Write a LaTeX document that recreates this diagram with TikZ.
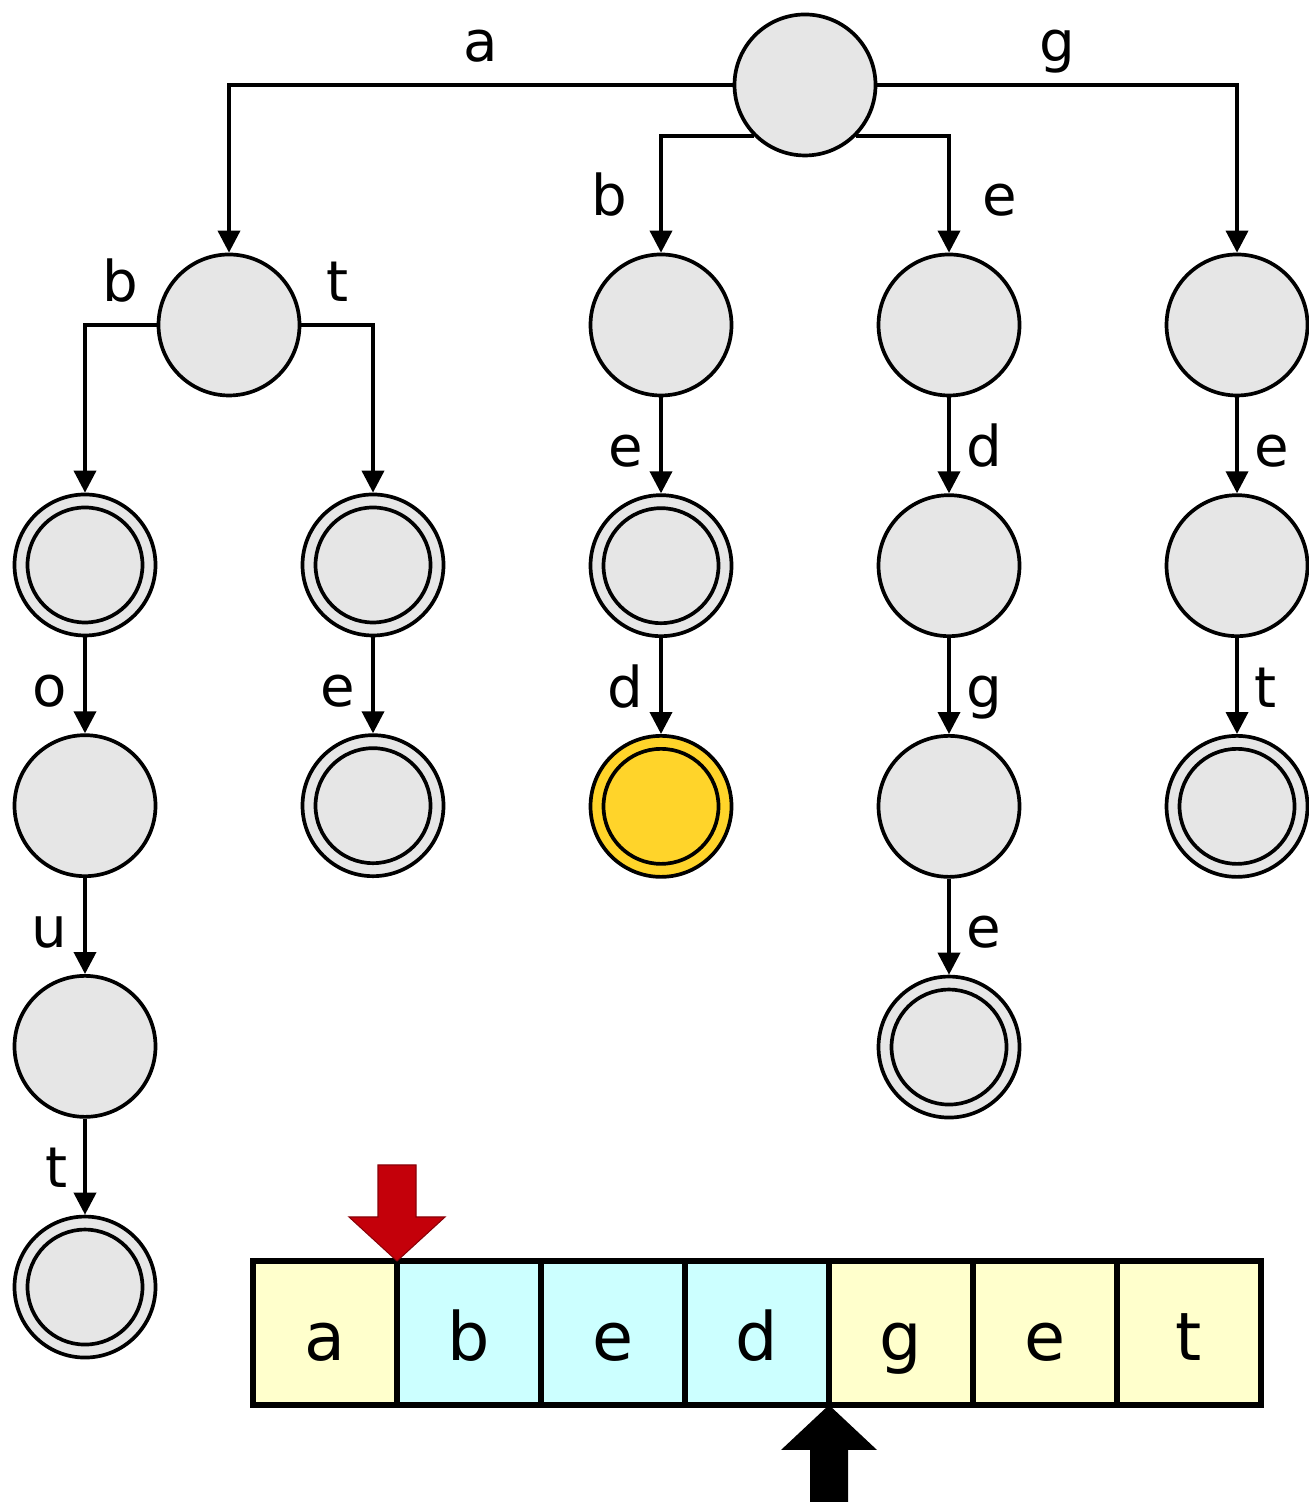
\documentclass[tikz,border=0pt]{standalone}
\usepackage{fontspec}
\setmainfont{DejaVu Sans}
\usepackage{xcolor}
\usetikzlibrary{positioning, arrows.meta, calc}

\definecolor{nodegray}{HTML}{E6E6E6}
\definecolor{hityellow}{HTML}{FFD42A}
\definecolor{cellyellow}{HTML}{FFFFCC}
\definecolor{cellcyan}{HTML}{CCFFFF}
\definecolor{markred}{HTML}{C4000A}

\begin{document}
\begin{tikzpicture}[
    node distance=0.96cm,
    state/.style={
        draw,
        circle,
        fill=nodegray,
        line width=1.05pt,
        minimum size=1.41cm,
        inner sep=0pt
    },
    accept/.style={
        path picture={\draw[line width=1.05pt] (path picture bounding box.center) circle (0.575cm);}
    },
    link/.style={-{Triangle[length=0.22cm, width=0.22cm]}, line width=1.05pt},
    lbl/.style={font=\fontsize{16}{18}\selectfont, inner sep=4.5pt, text height=12pt, text depth=0pt},
    hlbl/.style={lbl, anchor=base, yshift=0.23cm},
    cell/.style={
        draw,
        line width=1.7pt,
        minimum size=1.44cm,
        outer sep=0pt,
        inner sep=0pt,
        text height=15.4pt,
        text depth=0pt,
        font=\fontsize{19}{22}\selectfont
    }
]
\useasboundingbox (0,0) rectangle (13.09,15.02);

% --- root and first level ---
\node[state] (root) at (8.05,14.17) {};
\node[state] (na) at (2.29,11.77) {};
\node[state] (nb) at (6.61,11.77) {};
\node[state] (ne) at (9.49,11.77) {};
\node[state] (ng) at (12.37,11.77) {};

% --- a subtree ---
\node[state, accept] (nab) at (0.85,9.37) {};
\node[state, below=of nab] (nabo) {};
\node[state, below=of nabo] (nabou) {};
\node[state, accept, below=of nabou] (nabout) {};
\node[state, accept] (nat) at (3.73,9.37) {};
\node[state, accept, below=of nat] (nate) {};

% --- b subtree ---
\node[state, accept, below=of nb] (nbe) {};
\node[state, accept, fill=hityellow, below=of nbe] (nbed) {};

% --- e subtree ---
\node[state, below=of ne] (ned) {};
\node[state, below=of ned] (nedg) {};
\node[state, accept, below=of nedg] (nedge) {};

% --- g subtree ---
\node[state, below=of ng] (nge) {};
\node[state, accept, below=of nge] (nget) {};

% --- root branches ---
\draw[link] (root.west) -| node[hlbl, pos=0.25] {a} (na);
\draw[link] (root.east) -| node[hlbl, pos=0.25] {g} (ng);
\draw[link] (root.south west) -| node[lbl, pos=0.75, left, xshift=-0.16cm] {b} (nb);
\draw[link] (root.south east) -| node[lbl, pos=0.75, right, xshift=0.16cm] {e} (ne);

% --- a branches ---
\draw[link] (na.west) -| node[hlbl, pos=0.25] {b} (nab);
\draw[link] (na.east) -| node[hlbl, pos=0.25] {t} (nat);
\draw[link] (nab) -- node[lbl, left] {o} (nabo);
\draw[link] (nabo) -- node[lbl, left] {u} (nabou);
\draw[link] (nabou) -- node[lbl, left] {t} (nabout);
\draw[link] (nat) -- node[lbl, left] {e} (nate);

% --- b, e, g branches ---
\draw[link] (nb) -- node[lbl, left] {e} (nbe);
\draw[link] (nbe) -- node[lbl, left] {d} (nbed);
\draw[link] (ne) -- node[lbl, right] {d} (ned);
\draw[link] (ned) -- node[lbl, right] {g} (nedg);
\draw[link] (nedg) -- node[lbl, right] {e} (nedge);
\draw[link] (ng) -- node[lbl, right] {e} (nge);
\draw[link] (nge) -- node[lbl, right] {t} (nget);

% --- input string ---
\node[cell, fill=cellyellow] (c1) at (3.25,1.69) {a};
\node[cell, fill=cellcyan, right=0cm of c1] (c2) {b};
\node[cell, fill=cellcyan, right=0cm of c2] (c3) {e};
\node[cell, fill=cellcyan, right=0cm of c3] (c4) {d};
\node[cell, fill=cellyellow, right=0cm of c4] (c5) {g};
\node[cell, fill=cellyellow, right=0cm of c5] (c6) {e};
\node[cell, fill=cellyellow, right=0cm of c6] (c7) {t};

% --- start / end markers ---
\draw[markred!70!black, fill=markred, line width=0.3pt]
(c1.north east) -- ++(-0.48,0.44) -- ++(0.29,0) -- ++(0,0.52) -- ++(0.38,0) -- ++(0,-0.52) -- ++(0.29,0) -- cycle;
\fill[black]
(c4.south east) -- ++(0.48,-0.45) -- ++(-0.29,0) -- ++(0,-0.52) -- ++(-0.38,0) -- ++(0,0.52) -- ++(-0.29,0) -- cycle;

\end{tikzpicture}
\end{document}
